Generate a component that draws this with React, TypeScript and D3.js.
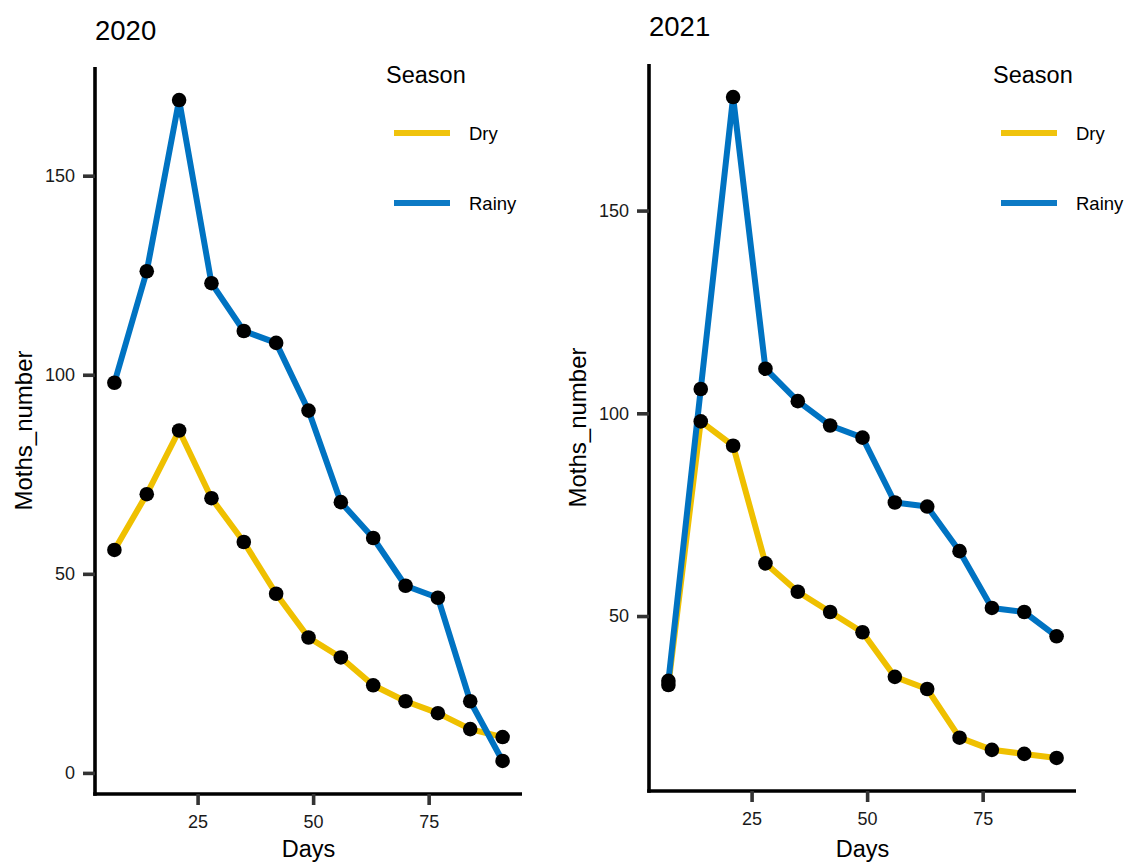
import { useEffect, useRef } from 'react';
import * as d3 from 'd3';

// sampling days (same for both years)
const days = [7, 14, 21, 28, 35, 42, 49, 56, 63, 70, 77, 84, 91];

const dry2020 = [56, 70, 86, 69, 58, 45, 34, 29, 22, 18, 15, 11, 9];
const rainy2020 = [98, 126, 169, 123, 111, 108, 91, 68, 59, 47, 44, 18, 3];

const dry2021 = [33, 98, 92, 63, 56, 51, 46, 35, 32, 20, 17, 16, 15];
const rainy2021 = [34, 106, 178, 111, 103, 97, 94, 78, 77, 66, 52, 51, 45];

const seasons = ['Dry', 'Rainy'];
const seasonColors = ['#EFC000', '#0073C2'];

const xTicks = [25, 50, 75];
const yTicks2020 = [0, 50, 100, 150];
const yTicks2021 = [50, 100, 150];

const FONT = '"Liberation Sans", Arial, Helvetica, sans-serif';

interface PanelOpts {
  title: string;
  dry: number[];
  rainy: number[];
  yTicks: number[];
  left: number;   // x of y-axis
  top: number;
  bottom: number;
  right: number;
  titleY: number;
  legendX: number;
  legendY: number;
}

function drawPanel(root: d3.Selection<SVGSVGElement, unknown, null, undefined>, o: PanelOpts) {
  const g = root.append('g');

  // ggplot style 5% expansion
  const xExt = d3.extent(days) as [number, number];
  const xPad = (xExt[1] - xExt[0]) * 0.05;
  const x = d3.scaleLinear()
    .domain([xExt[0] - xPad, xExt[1] + xPad])
    .range([o.left, o.right]);

  const allY = o.dry.concat(o.rainy);
  const yMin = d3.min(allY) as number;
  const yMax = d3.max(allY) as number;
  const yPad = (yMax - yMin) * 0.05;
  const y = d3.scaleLinear()
    .domain([yMin - yPad, yMax + yPad])
    .range([o.bottom, o.top]);

  // title
  g.append('text')
    .attr('x', o.left)
    .attr('y', o.titleY)
    .style('font-family', FONT)
    .style('font-size', '27.5px')
    .style('fill', '#000')
    .text(o.title);

  // series lines
  const line = d3.line<number>()
    .x((_, i) => x(days[i]))
    .y(d => y(d));

  [o.dry, o.rainy].forEach((vals, si) => {
    g.append('path')
      .datum(vals)
      .attr('fill', 'none')
      .attr('stroke', seasonColors[si])
      .attr('stroke-width', 6)
      .attr('stroke-linejoin', 'round')
      .attr('d', line);
  });

  // points
  [o.dry, o.rainy].forEach(vals => {
    g.selectAll(null)
      .data(vals)
      .enter()
      .append('circle')
      .attr('cx', (_, i) => x(days[i]))
      .attr('cy', d => y(d))
      .attr('r', 7.3)
      .attr('fill', '#000');
  });

  // axes
  const yAxis = g.append('g')
    .attr('transform', `translate(${o.left},0)`)
    .call(d3.axisLeft(y).tickValues(o.yTicks).tickSize(12).tickPadding(8));
  const xAxis = g.append('g')
    .attr('transform', `translate(0,${o.bottom})`)
    .call(d3.axisBottom(x).tickValues(xTicks).tickSize(11).tickPadding(10));

  [yAxis, xAxis].forEach(ax => {
    ax.select('.domain')
      .attr('stroke', '#000')
      .attr('stroke-width', 3.6);
    ax.selectAll('.tick line')
      .attr('stroke', '#333')
      .attr('stroke-width', 3.6);
    ax.selectAll('.tick text')
      .style('font-family', FONT)
      .style('font-size', '18px')
      .style('fill', '#1a1a1a');
  });
  // square axis ends, no outer ticks
  yAxis.select('.domain').attr('d', `M0,${o.top}V${o.bottom + 1.8}`);
  xAxis.select('.domain').attr('d', `M${o.left - 1.8},0H${o.right}`);

  // axis titles (kept just inside the bottom edge)
  g.append('text')
    .attr('x', (o.left + o.right) / 2)
    .attr('y', 857)
    .attr('text-anchor', 'middle')
    .style('font-family', FONT)
    .style('font-size', '23.5px')
    .text('Days');

  g.append('text')
    .attr('transform', `translate(${o.left - 63},${(o.top + o.bottom) / 2}) rotate(-90)`)
    .attr('text-anchor', 'middle')
    .style('font-family', FONT)
    .style('font-size', '24px')
    .text('Moths_number');

  // legend
  const leg = g.append('g').attr('transform', `translate(${o.legendX},${o.legendY})`);
  leg.append('text')
    .attr('x', 0)
    .attr('y', 0)
    .style('font-family', FONT)
    .style('font-size', '23.5px')
    .text('Season');
  seasons.forEach((s, i) => {
    const ly = 50 + i * 70;
    leg.append('line')
      .attr('x1', 8).attr('x2', 64)
      .attr('y1', ly).attr('y2', ly)
      .attr('stroke', seasonColors[i])
      .attr('stroke-width', 6)
      .attr('stroke-opacity', 0.95);
    leg.append('text')
      .attr('x', 83)
      .attr('y', ly + 7)
      .style('font-family', FONT)
      .style('font-size', '18.5px')
      .text(s);
  });
}

export default function App() {
  const ref = useRef<SVGSVGElement>(null);

  useEffect(() => {
    if (!ref.current) return;
    const svg = d3.select(ref.current);
    svg.selectAll('*').remove();

    svg.append('rect').attr('width', 1125).attr('height', 863).attr('fill', '#fff');

    drawPanel(svg, {
      title: '2020', dry: dry2020, rainy: rainy2020, yTicks: yTicks2020,
      left: 95, right: 522, top: 67, bottom: 794, titleY: 40,
      legendX: 386, legendY: 83,
    });
    drawPanel(svg, {
      title: '2021', dry: dry2021, rainy: rainy2021, yTicks: yTicks2021,
      left: 649, right: 1076, top: 64, bottom: 791, titleY: 36,
      legendX: 993, legendY: 83,
    });
  }, []);

  return (
    <div style={{ position: 'absolute', left: 0, top: 0 }}>
      <svg ref={ref} width={1125} height={863} style={{ display: 'block' }} />
    </div>
  );
}
